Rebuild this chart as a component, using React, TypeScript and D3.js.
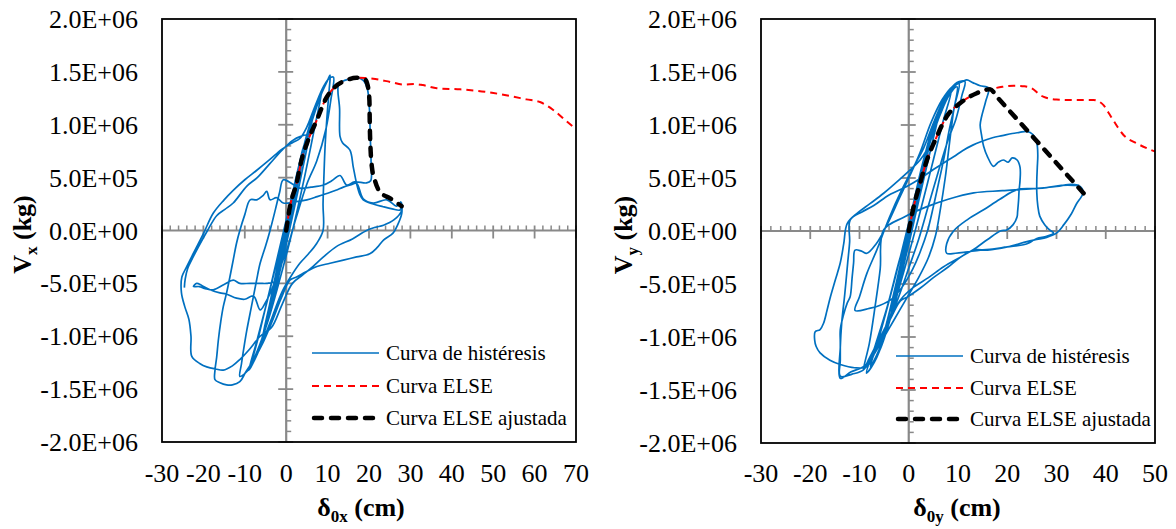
import React from 'react';
import * as d3 from 'd3';

type P = [number, number];
// displacement in cm, force in units of 1e5 kg
const KG = 1e5;

const yTickValues = [-2e6, -1.5e6, -1e6, -5e5, 0, 5e5, 1e6, 1.5e6, 2e6];
const yTickLabels = ['-2.0E+06', '-1.5E+06', '-1.0E+06', '-5.0E+05', '0.0E+00', '5.0E+05', '1.0E+06', '1.5E+06', '2.0E+06'];
const xTicksLeft = [-30, -20, -10, 0, 10, 20, 30, 40, 50, 60, 70];
const xTicksRight = [-30, -20, -10, 0, 10, 20, 30, 40, 50];
const legendLabels = ['Curva de histéresis', 'Curva ELSE', 'Curva ELSE ajustada'];

// ---------- X direction hysteresis ----------
const hystX0: P[] = [
  [0, 0], [1.4, 2.6], [2.6, 4.8], [1.6, 2.6], [-0.2, -0.6], [-1.8, -3.8], [-3.2, -6], [-2, -3.6], [0, 0.2],
  [2, 4], [3.8, 7], [5.4, 9.4], [3.8, 6.4], [1.2, 1.4], [-1.4, -3.6], [-3.2, -6.8], [-4.8, -9], [-6.2, -10.8],
  [-4.6, -8.2], [-2.2, -3.6], [0, 0.6], [2.6, 5.4], [4.2, 7.8], [2.6, 4.6], [0.4, 0], [-2.4, -5], [-5, -9.2],
  [-7.4, -12], [-9, -13.2], [-7.2, -10.6], [-4.8, -7], [-2, -2.6], [0, 0],
];
const hystX1: P[] = [
  [1.8, 3], [3.2, 5.4], [2, 3], [0.2, 0], [-1.4, -3], [-2.6, -5.2], [-1.6, -3], [0.2, 0.4],
  [2.4, 4.4], [4.4, 7.6], [3, 5], [0.6, 0.6], [-2, -4.2], [-3.8, -7.2], [-2.6, -4.8], [-0.4, -0.6],
  [2.2, 4.2], [4.8, 8.4], [6.4, 10.6], [4.8, 7.4], [2, 2.2], [-1, -3], [-3.8, -7.4], [-5.6, -9.8], [-4, -7], [-1.4, -2],
  [1.6, 3.4], [4.8, 8.8], [7.4, 12], [8.6, 13.2], [7, 10], [4.4, 5], [1.4, -0.2], [-1.8, -5], [-4.6, -8.8],
  [-7, -11.4], [-8.2, -12.4], [-6.4, -9.6], [-3.6, -5], [-0.6, 0], [2.6, 5.2], [5.8, 9.8], [8.6, 13], [10, 14.2], [10.6, 14.7],
];
const hystX2: P[] = [
  [10.4, 13.4], [9.9, 11], [9.4, 8], [9.1, 5], [8.9, 2.5], [8.9, 0], [7.4, -1.2], [5.4, -2.2], [3.3, -3.1],
  [1.2, -4.3], [-1, -5.8], [-3.4, -8.2], [-6, -10.8], [-8.4, -12.8], [-10.2, -13.6], [-11.2, -13.8],
  [-10.8, -12.6], [-10.1, -10.8], [-9.5, -9.4], [-8.4, -7.2], [-7.2, -4.8], [-6.3, -3.1], [-5, -1.5], [-3.9, 0],
  [-2.6, 2], [-1.6, 3.6], [-0.7, 4.8], [1.5, 4.4], [3.3, 4], [6, 4.1], [9, 4.3], [11, 4.7], [13, 5.2],
  [14.6, 4.3], [16.5, 4.6], [19.4, 4.5], [20.4, 4.7], [20.5, 6.5], [20.3, 9], [20.1, 11.5], [19.6, 13.4],
  [18.6, 14.2], [17, 14.45], [15, 14.3], [13.6, 14.1], [12.6, 13.75],
];
const hystX3: P[] = [
  [12.9, 11.5], [13, 8.9], [13.6, 8.3], [15.4, 7.6], [16.2, 6], [17, 4.45], [17.8, 3.4], [18.6, 2.9], [21, 2.5],
  [23.4, 2.25], [25.6, 2.05], [27.5, 1.94], [27.9, 2.4], [27.9, 1.6], [27, 0.6], [25.8, -0.25], [23.5, -0.9],
  [22, -1.6], [20.2, -2.2], [17, -2.5], [13.8, -2.8], [10.6, -3.1], [7.4, -3.4], [4.8, -3.9], [2.5, -4.4],
  [0.9, -4.7], [-1.2, -6.4], [-3.4, -8.6], [-5.6, -10.6], [-7.8, -12.2], [-9.8, -13.4], [-11.2, -14.3],
  [-13, -14.6], [-14.4, -14.6], [-16, -14.4], [-17.2, -14.1],
];
const hystX4: P[] = [
  [-17.2, -13.2], [-16.8, -12], [-16.4, -10.4], [-15.8, -8.6], [-15.2, -7.2], [-14.4, -5.9], [-13.6, -4.4],
  [-12.8, -2.8], [-12, -1.2], [-11.2, 0], [-10, 1.5], [-8.7, 2.9], [-7.1, 2.9], [-5.6, 3.3], [-4.7, 3.7],
  [-3.9, 2.9], [-2.3, 3.1], [-0.7, 2.6], [2, 2.7], [5, 2.9], [7.5, 3.2], [9.8, 3.5], [12, 3.8], [13.8, 4.1],
  [15.5, 4.3], [17, 4.45], [18.6, 3], [21, 2.6], [24.3, 2.9], [26.7, 2.3], [27.7, 2.7], [27.9, 1.9],
  [26, 1], [23.5, 0.5], [21.5, 0.3], [19.4, 0], [16, -0.8], [12.2, -1.5], [9, -2.5], [6.5, -3.4], [4, -4.2],
  [1.5, -5], [-1, -7], [-3.6, -9.2], [-6.3, -10], [-8.8, -11.2], [-11.2, -12.2], [-13, -12.8], [-15.2, -13.2],
  [-17, -13.1], [-19.2, -12.9], [-20.8, -12.6], [-22.8, -11.9], [-23, -10], [-23.5, -8.4], [-24.5, -7.2],
  [-25.3, -5.9], [-25.2, -4.4],
];
const hystX5: P[] = [
  [-24, -3.4], [-22.4, -2.15], [-20, -0.3], [-17.6, 1.65], [-15, 2.9], [-12.8, 3.8], [-10, 4.8], [-7.1, 5.7],
  [-4, 6.7], [-1, 7.7], [1.5, 8.3], [3.3, 8.7], [5, 9.8], [7, 11.8], [9, 13.6], [10.4, 14.4], [11.4, 14.5],
  [10.8, 12.4], [9.6, 9.6], [7.4, 6.6], [5, 4.4], [2.4, 1.2], [0, -2], [-2, -4], [-3.5, -5.6], [-5, -6.8],
  [-6.3, -7.5], [-7.9, -6.2], [-10, -6.5], [-12, -6.4], [-14.5, -6], [-16, -5.9], [-18.4, -5.6], [-20.4, -5.2],
  [-21.6, -5], [-22.4, -5.3], [-21, -5.3], [-19.5, -5.5], [-17.6, -5.6], [-15, -5.1], [-12.8, -4.7],
  [-11.2, -5], [-8.8, -5], [-6.3, -5], [-4.7, -5], [-2.3, -4.7], [-1, -2.4], [0.6, 1.4], [2.2, 4.4],
  [3.8, 7.4], [4.8, 9], [3.5, 8.9], [1.5, 8.5], [-1, 7.6], [-4, 6.3], [-7, 5], [-9.5, 4.2], [-12.8, 2.6],
  [-14.8, 2], [-16.8, 1.4], [-19, 0], [-21, -1.4], [-22.6, -2.6], [-23.8, -3.6], [-24.4, -4.6], [-24.6, -5.4],
];

const elseX: P[] = [
  [0, 0], [0.9, 2.25], [2.5, 4.46], [3.7, 6.66], [5.3, 8.55], [7.4, 10.44], [9.4, 12.33], [11.8, 13.59],
  [14.6, 14.22], [17, 14.45], [19, 14.42], [21.5, 14.32], [25.1, 14.05], [28.5, 13.8], [31, 13.85], [33, 13.75],
  [36.4, 13.45], [42, 13.35], [48.4, 13.1], [54.9, 12.65], [58, 12.4], [61.3, 12.15], [64.5, 11.4],
  [67.8, 10.3], [70, 9.6],
];
const adjX: P[] = [
  [0, 0], [0.9, 2.25], [2.5, 4.46], [3.7, 6.66], [5.3, 8.55], [7.4, 10.44], [9.4, 12.33], [11.8, 13.59],
  [14.6, 14.22], [17, 14.45], [19, 14.3], [19.8, 13.5], [20.1, 12.3], [20.2, 9.8], [20.4, 7.5], [20.7, 6],
  [21.4, 4.77], [22.6, 3.67], [25.1, 3.04], [27.9, 2.3],
];

// ---------- Y direction hysteresis ----------
const hystY0: P[] = [
  [0, 0], [1.4, 2.8], [2.6, 5.2], [1.6, 2.8], [-0.2, -0.6], [-1.6, -3.8], [-3, -6.4], [-1.8, -3.8], [0, 0.2],
  [1.8, 4], [3.6, 7.4], [5, 9.8], [3.6, 6.8], [1.2, 1.6], [-1.2, -3.6], [-3, -7], [-4.6, -9.6], [-6, -11.4],
  [-4.4, -8.6], [-2, -3.8], [0, 0.6], [2.4, 5.6], [4, 8.4], [2.4, 5], [0.4, 0], [-2.2, -5.2], [-4.8, -9.8],
  [-7, -12.4], [-8.6, -13.4], [-6.8, -10.8], [-4.4, -7.2], [-1.8, -2.6], [0, 0],
];
const hystY1: P[] = [
  [1.8, 3.2], [3.2, 5.8], [2, 3.4], [0.2, 0.2], [-1.4, -3.2], [-2.6, -5.6], [-1.6, -3.2], [0.2, 0.4],
  [2.4, 4.8], [4.2, 8.2], [2.8, 5.2], [0.6, 0.8], [-1.8, -4.2], [-3.6, -7.6], [-2.4, -5], [-0.4, -0.6],
  [2, 4.4], [4.6, 9], [6.2, 11.2], [4.6, 8], [2, 2.8], [-0.8, -2.8], [-3.6, -7.8], [-5.4, -10.4], [-3.8, -7.4],
  [-1.2, -2.2], [1.6, 3.8], [4.6, 9.4], [7, 12.2], [8.6, 13.2], [7, 10.4], [4.4, 5.6], [1.4, 0.2], [-1.6, -4.8],
  [-4.4, -9.2], [-6.6, -11.8], [-7.8, -12.8], [-6, -10], [-3.2, -5.2], [-0.4, 0], [2.6, 5.6], [5.4, 10],
  [7.8, 12.8], [9.6, 13.8], [11, 14.1], [11.8, 14.25],
];
const hystY2: P[] = [
  [13, 14], [14.5, 13.7], [16.2, 13.5], [15.6, 12.2], [14.8, 10.8], [14.5, 10], [14.8, 9], [15.2, 8], [16, 7],
  [17.2, 6.1], [18.2, 6.5], [19.2, 6.7], [20.2, 6.5], [21, 6.9], [22, 6.7], [22.6, 6], [22.6, 4.8], [22.4, 3.8],
  [22.3, 2.9], [22.1, 1.8], [22, 1.35], [21.2, 0.6], [19.9, 0.1], [18.6, 0], [16, -0.8], [13, -1.8],
  [10.4, -2.5], [8, -3.4], [5, -4.4], [2.3, -5.4], [-0.2, -6.2], [-1.7, -6.6], [-3.4, -8], [-5.8, -10.2],
  [-7.6, -11.8], [-9.2, -13.1], [-11.5, -13.5], [-13.9, -13.7], [-13.9, -12.2], [-13.9, -10.5], [-13.9, -9.3],
  [-13.3, -8], [-12.5, -6.8], [-11.9, -6.2], [-11.5, -4.4], [-11.2, -3], [-10.9, -1.8], [-9.6, -1.9],
  [-8.5, -2.1], [-6.6, -1.2], [-4.4, 0.6], [-2, 3], [0, 5], [2.3, 7.4], [4.5, 10.2], [6.8, 12.4], [8.8, 13.6],
  [10.2, 13.9],
];
const hystY3: P[] = [
  [9.4, 12], [8.2, 9.5], [7.2, 7], [6, 4.4], [5, 2.3], [3.8, 0], [2.3, -2], [0.8, -3.6], [-1.2, -5.2],
  [-3.4, -6.4], [-5.8, -7], [-8, -7.3], [-10.9, -7.5], [-10, -6.2], [-8.5, -4], [-6.5, -1.8], [-4, 1.2],
  [-1.5, 3.8], [1, 6.07], [3, 7.8], [5.2, 10.4], [7.6, 12.8], [9.8, 14], [11.4, 14.1],
  [10.8, 12.8], [9.6, 10.6], [8, 8.6], [6, 5.6], [4, 2.4], [2, -0.8], [0, -3.5], [-2.2, -6.4], [-4.6, -9.2],
  [-6.8, -11.4], [-8.5, -12.8], [-11, -12.9], [-13.9, -12.6], [-16, -12.2], [-18, -11.5], [-18.8, -10.9],
  [-19.1, -10.3], [-19, -9.5], [-18, -9.3], [-17.3, -8.7], [-16.6, -7.5], [-15.9, -6.2], [-14.9, -4.6],
  [-13.9, -3], [-13.2, -1.2], [-12.5, 0.7], [-10.5, 1.67], [-7.8, 2.6], [-5.1, 3.56], [-2, 4.8], [1, 6.07],
  [2.3, 6.7], [3.6, 7.6], [4.8, 9], [6.4, 11], [8.2, 12.8], [9.8, 13.6],
];
const hystY4: P[] = [
  [9, 11], [8.2, 8], [7.4, 5], [6.4, 2], [5.4, -0.5], [4, -2.5], [2, -4.4], [-0.5, -6.4], [-3, -8.4],
  [-5.5, -10.4], [-7.6, -12], [-9.2, -12.8], [-11.8, -13.3], [-13.9, -13.9], [-13.9, -11], [-13.6, -8.6],
  [-13, -6], [-12.4, -3], [-12, -1], [-11.9, 1.04], [-9.5, 1.8], [-7.1, 2.4], [-4, 3.4], [-0.4, 4.2],
  [2.5, 5], [5, 5.8], [7, 6.4], [9.1, 7], [11, 7.6], [13, 8.1], [14.5, 8.4], [17, 8.8], [19, 9], [21, 9.2],
  [22.5, 9.3], [24, 9.4], [25.2, 9.1], [26, 8.3], [26.2, 7.2], [26.1, 6], [26, 4.8], [26, 3.6], [26.2, 2.4],
  [26.6, 1.4], [27.6, 0.6], [28.6, 0.1], [29.4, -0.2], [28, -0.5], [26, -0.7], [24.5, -1.1], [23.3, -1.3],
  [20, -1.5], [17, -1.7], [14.5, -1.8], [11.5, -2], [9.5, -2.1], [7.7, -2.1], [7.7, -1.2], [9.1, 0],
  [12, 1.1], [15.2, 2], [18.5, 3], [22, 3.9], [25.3, 4], [28, 4.1], [31, 4.3], [33.5, 4.3], [34.8, 4.2],
  [35.4, 3.6], [35, 3.2], [34.1, 2.6], [33, 1.6], [31.5, 0.6], [30, -0.2], [28, -0.6], [26, -0.8], [24, -1],
  [20, -1.5], [16, -1.8], [13.2, -1.8], [10, -2.6], [7, -3.4], [4, -4.4], [1, -5.3], [-1.7, -6.5],
  [-4, -8.4], [-6.2, -10.4], [-8, -12], [-9.2, -13.1], [-8, -10.6], [-6.8, -7], [-5.8, -3.6], [-5.1, 0.1],
  [-1, 1.3], [3.7, 2.3], [8, 3], [13.2, 3.6], [19, 3.8], [25.3, 4], [30, 4.2], [33, 4.4], [34.6, 4.3],
];

const elseY: P[] = [
  [0, 0], [1, 2.3], [2.3, 4.5], [3.7, 6.7], [5.4, 8.6], [7.7, 10.8], [10.4, 12.05], [13.8, 13], [16.5, 13.37],
  [19, 13.6], [21.3, 13.7], [23.5, 13.65], [25, 13.46], [26.5, 12.9], [27.3, 12.67], [30, 12.4], [32.1, 12.36],
  [35, 12.35], [37.5, 12.36], [39.5, 11.9], [40.5, 11.2], [41.5, 10.47], [43.6, 9.06], [46.3, 8.27], [50.1, 7.48],
];
const adjY: P[] = [
  [0, 0], [1, 2.3], [2.3, 4.5], [3.7, 6.7], [5.4, 8.6], [7.7, 10.8], [10.4, 12.05], [13.8, 13], [16.5, 13.37],
  [18, 12.6], [35.5, 3.56],
];

const FONT = '"Liberation Serif", "Times New Roman", serif';
const GRAY = '#898989';
const BLUE = '#0070C0';

type PanelProps = {
  id: string;
  left: number; top: number; right: number; bottom: number;
  xTicks: number[];
  hyst: P[][];
  elseC: P[];
  adj: P[];
  sub: string;
  ylabRight: number;
  yTitleX: number;
  xTitleX: number;
  legX: number;
  legY: number[];
};

function Panel(p: PanelProps) {
  const xMin = p.xTicks[0];
  const xMax = p.xTicks[p.xTicks.length - 1];
  const x = d3.scaleLinear().domain([xMin, xMax]).range([p.left, p.right]);
  const y = d3.scaleLinear().domain([-2e6, 2e6]).range([p.bottom, p.top]);
  const hystLine = d3.line<P>().x(d => x(d[0])).y(d => y(d[1] * KG)).curve(d3.curveCatmullRom.alpha(0.5));
  const smooth = d3.line<P>().x(d => x(d[0])).y(d => y(d[1] * KG)).curve(d3.curveMonotoneX);
  const x0 = x(0);
  const y0 = y(0);
  const minorX = d3.range(xMin, xMax + 0.001, 2).filter(v => Math.round(v) % 10 !== 0);
  const minorY = d3.range(-20, 20.001, 1).filter(v => Math.round(v) % 5 !== 0).map(v => v * KG);
  const hystAll = ([] as P[]).concat(...p.hyst);
  const clip = `clip-${p.id}`;
  return (
    <g>
      <defs>
        <clipPath id={clip}>
          <rect x={p.left} y={p.top} width={p.right - p.left} height={p.bottom - p.top} />
        </clipPath>
      </defs>
      <line x1={p.left} x2={p.right} y1={y0} y2={y0} stroke={GRAY} strokeWidth={2.2} />
      <line x1={x0} x2={x0} y1={p.top} y2={p.bottom} stroke={GRAY} strokeWidth={2.2} />
      {minorX.map(v => (
        <line key={'mx' + v} x1={x(v)} x2={x(v)} y1={y0 - 5} y2={y0} stroke={GRAY} strokeWidth={1.5} />
      ))}
      {p.xTicks.map(v => (
        <line key={'Mx' + v} x1={x(v)} x2={x(v)} y1={y0 - 5} y2={y0 + 8} stroke={GRAY} strokeWidth={1.8} />
      ))}
      {minorY.map(v => (
        <line key={'my' + v} x1={x0} x2={x0 + 5} y1={y(v)} y2={y(v)} stroke={GRAY} strokeWidth={1.5} />
      ))}
      {yTickValues.map(v => (
        <line key={'My' + v} x1={x0 - 8} x2={x0 + 7} y1={y(v)} y2={y(v)} stroke={GRAY} strokeWidth={1.8} />
      ))}
      <g clipPath={`url(#${clip})`}>
        <path d={hystLine(hystAll) || ''} fill="none" stroke={BLUE} strokeWidth={1.7} strokeLinejoin="round" />
        <path d={smooth(p.elseC) || ''} fill="none" stroke="#FF0000" strokeWidth={2} strokeDasharray="7 5" />
        <path d={smooth(p.adj) || ''} fill="none" stroke="#000" strokeWidth={4.5} strokeDasharray="8 9"
          strokeLinecap="round" strokeLinejoin="round" />
      </g>
      <rect x={p.left} y={p.top} width={p.right - p.left} height={p.bottom - p.top} fill="none" stroke="#000" strokeWidth={1.8} />
      {yTickValues.map((v, i) => (
        <text key={'yl' + v} x={p.ylabRight} y={y(v) + 9} textAnchor="end" fontFamily={FONT} fontSize={26} fill="#000">
          {yTickLabels[i]}
        </text>
      ))}
      {p.xTicks.map(v => (
        <text key={'xl' + v} x={x(v)} y={482} textAnchor="middle" fontFamily={FONT} fontSize={26} fill="#000">
          {String(v)}
        </text>
      ))}
      <text x={p.xTitleX} y={516} textAnchor="middle" fontFamily={FONT} fontSize={26} fontWeight="bold" fill="#000">
        δ<tspan fontSize={17} dy={6}>{'0' + p.sub}</tspan><tspan dy={-6}> (cm)</tspan>
      </text>
      <text transform={`translate(${p.yTitleX},${(p.top + p.bottom) / 2 + 4}) rotate(-90)`} textAnchor="middle"
        fontFamily={FONT} fontSize={26} fontWeight="bold" fill="#000">
        V<tspan fontSize={17} dy={6}>{p.sub}</tspan><tspan dy={-6}> (kg)</tspan>
      </text>
      {legendLabels.map((lab, i) => {
        const ly = p.legY[i];
        const x1 = p.legX;
        const x2 = p.legX + 67;
        return (
          <g key={lab}>
            {i === 0 && <line x1={x1} x2={x2} y1={ly} y2={ly} stroke={BLUE} strokeWidth={1.7} />}
            {i === 1 && <line x1={x1} x2={x2} y1={ly} y2={ly} stroke="#FF0000" strokeWidth={2} strokeDasharray="7 5" />}
            {i === 2 && <line x1={x1 + 2} x2={x2 - 2} y1={ly} y2={ly} stroke="#000" strokeWidth={4.5} strokeDasharray="8 9" strokeLinecap="round" />}
            <text x={x2 + 7} y={ly + 7} fontFamily={FONT} fontSize={21} fill="#000">{lab}</text>
          </g>
        );
      })}
    </g>
  );
}

export default function App() {
  return (
    <svg width={1176} height={529} style={{ position: 'absolute', left: 0, top: 0, background: '#fff' }}>
      <rect x={0} y={0} width={1176} height={529} fill="#fff" />
      <Panel id="x" left={162} top={19} right={576} bottom={442} xTicks={xTicksLeft}
        hyst={[hystX0, hystX1, hystX2, hystX3, hystX4, hystX5]} elseC={elseX} adj={adjX} sub="x"
        ylabRight={138} yTitleX={31} xTitleX={361} legX={312} legY={[353, 386, 418]} />
      <Panel id="y" left={761} top={19} right={1155} bottom={443} xTicks={xTicksRight}
        hyst={[hystY0, hystY1, hystY2, hystY3, hystY4]} elseC={elseY} adj={adjY} sub="y"
        ylabRight={737} yTitleX={632} xTitleX={957} legX={896} legY={[356, 388, 419]} />
    </svg>
  );
}
